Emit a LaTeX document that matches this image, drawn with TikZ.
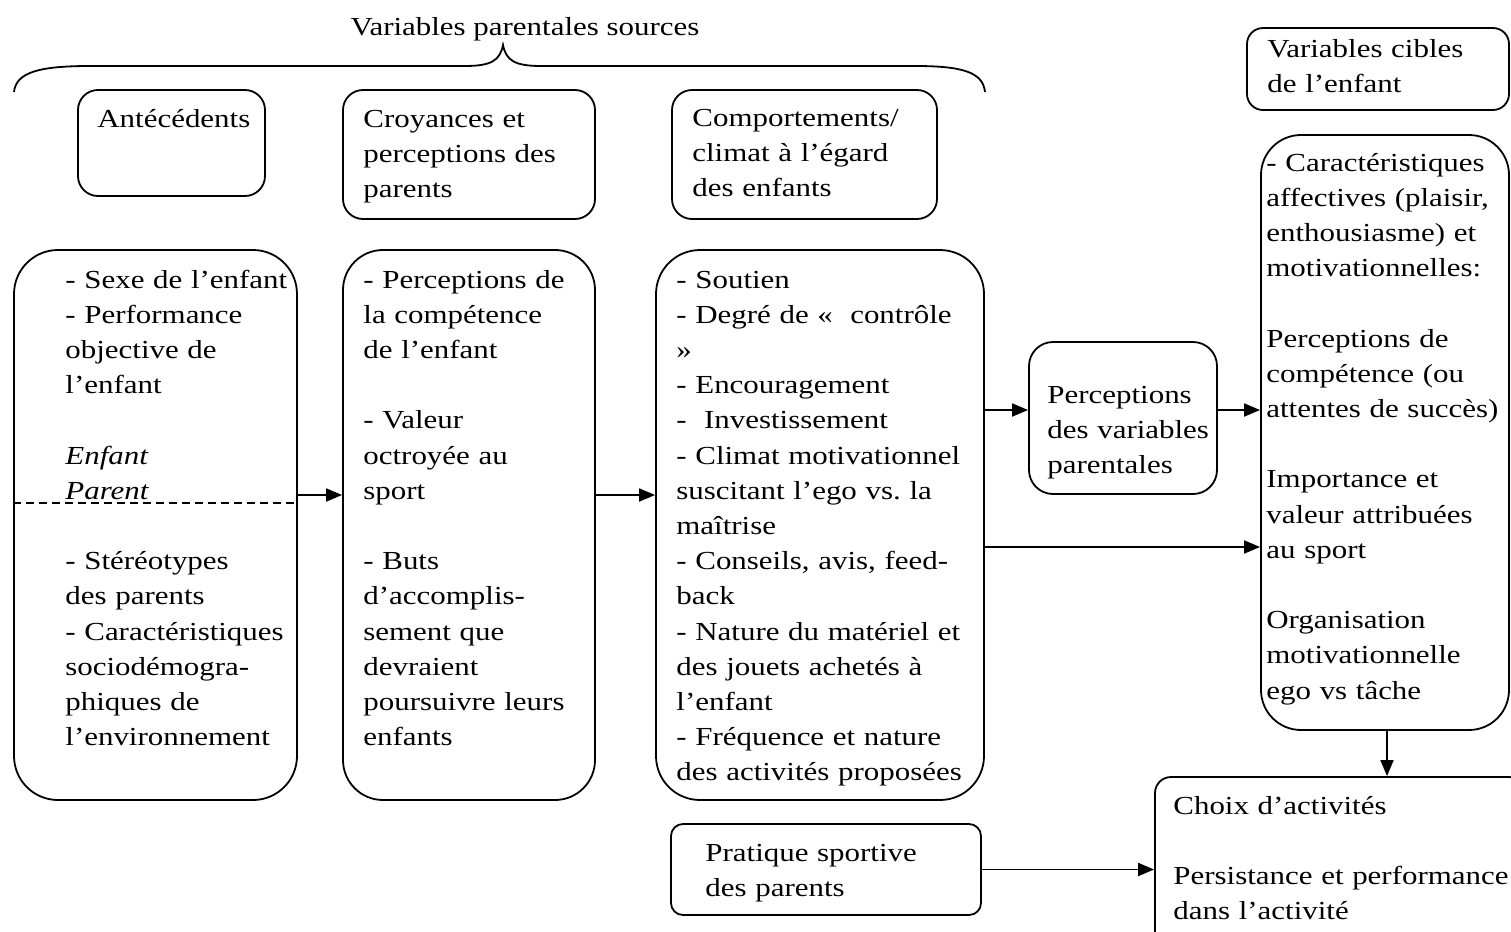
\documentclass[tikz,border=0pt]{standalone}
\usepackage{fontspec}
\setmainfont[FakeStretch=1.19]{Liberation Serif}
\usepackage{tikz}
\usetikzlibrary{arrows.meta,fit}

\tikzset{
    box/.style={draw, line width=0.9pt, inner sep=0pt, rounded corners=#1},
    box/.default=10pt,
    txt/.style={anchor=base west, align=left, inner sep=0pt, text width=190pt},
    arr/.style={line width=0.9pt, -{Triangle[length=8pt,width=6.5pt]}},
}

\begin{document}
\begin{tikzpicture}[x=0.5pt, y=-0.5pt, font=\fontsize{13pt}{17.6pt}\selectfont]
    \fill[white] (0,0) rectangle (1511,932);
    \useasboundingbox (0,0) rectangle (1511,932);

    % brace over the parent variables
    \node[anchor=base, inner sep=0pt] (title) at (525,35) {Variables parentales sources};
    \draw[line width=0.9pt] (14,92) .. controls (16,72) and (40,66) .. (90,66) -- (465,66)
        .. controls (492,66) and (500,60) .. (503,45) .. controls (506,60) and (514,66) .. (541,66)
        -- (915,66) .. controls (962,66) and (983,72) .. (985,92);

    % headings
    \node[box] (antec) [fit={(78,90) (265,196)}] {};
    \node[box] (croy) [fit={(343,90) (595,219)}] {};
    \node[box] (comp) [fit={(672,90) (937,219)}] {};
    \node[box=8pt] (cible) [fit={(1247,28) (1509,110)}] {};
    \node[txt] (antec-t) at (97,127) {Antécédents};
    \node[txt] (croy-t) at (363,127) {Croyances et\\perceptions des\\parents};
    \node[txt] (comp-t) at (692,126) {Comportements/\\climat à l’égard\\des enfants};
    \node[txt] (cible-t) at (1267,57) {Variables cibles\\de l’enfant};

    % main boxes
    \node[box=22pt] (src) [fit={(14,250) (297,800)}] {};
    \node[box=20pt] (belief) [fit={(343,250) (595,800)}] {};
    \node[box=22pt] (behav) [fit={(656,250) (984,800)}] {};
    \node[box=12pt] (percep) [fit={(1029,342) (1217,494)}] {};
    \node[box=20pt] (target) [fit={(1261,135) (1509,730)}] {};
    \node[box=8pt] (choix) [fit={(1155,777) (1525,960)}] {};
    \node[box=6pt] (prat) [fit={(671,824) (981,915)}] {};

    \node[txt] (src-t) at (65,288) {- Sexe de l’enfant\\- Performance\\objective de\\l’enfant\\[17.6pt]\textit{Enfant}\\\textit{Parent}\\[17.6pt]- Stéréotypes\\des parents\\- Caractéristiques\\sociodémogra-\\phiques de\\l’environnement};
    \node[txt] (belief-t) at (363,288) {- Perceptions de\\la compétence\\de l’enfant\\[17.6pt]- Valeur\\octroyée au\\sport\\[17.6pt]- Buts\\d’accomplis-\\sement que\\devraient\\poursuivre leurs\\enfants};
    \node[txt] (behav-t) at (676,288) {- Soutien\\- Degré de «~~contrôle\\»\\- Encouragement\\-~~Investissement\\- Climat motivationnel\\suscitant l’ego vs.\ la\\maîtrise\\- Conseils, avis, feed-\\back\\- Nature du matériel et\\des jouets achetés à\\l’enfant\\- Fréquence et nature\\des activités proposées};
    \node[txt] (percep-t) at (1047,403) {Perceptions\\des variables\\parentales};
    \node[txt] (target-t) at (1266,171) {- Caractéristiques\\affectives (plaisir,\\enthousiasme) et\\motivationnelles:\\[17.6pt]Perceptions de\\compétence (ou\\attentes de succès)\\[17.6pt]Importance et\\valeur attribuées\\au sport\\[17.6pt]Organisation\\motivationnelle\\ego vs tâche};
    \node[txt] (choix-t) at (1173,814) {Choix d’activités\\[17.6pt]Persistance et performance\\dans l’activité};
    \node[txt] (prat-t) at (705,861) {Pratique sportive\\des parents};

    % child / parent split
    \draw[dashed, line width=0.8pt, dash pattern=on 4pt off 2.5pt] (src.west |- 0,503) -- (src.east |- 0,503);

    % arrows
    \draw[arr] (src.east |- 0,495) -- (belief.west |- 0,495);
    \draw[arr] (belief.east |- 0,495) -- (behav.west |- 0,495);
    \draw[arr] (behav.east |- 0,410) -- (percep.west |- 0,410);
    \draw[arr] (percep.east |- 0,410) -- (target.west |- 0,410);
    \draw[arr] (behav.east |- 0,547) -- (target.west |- 0,547);
    \draw[arr] (target.south -| 1387,0) -- (choix.north -| 1387,0);
    \draw[arr] (prat.east) -- (choix.west |- prat.east);
\end{tikzpicture}
\end{document}
